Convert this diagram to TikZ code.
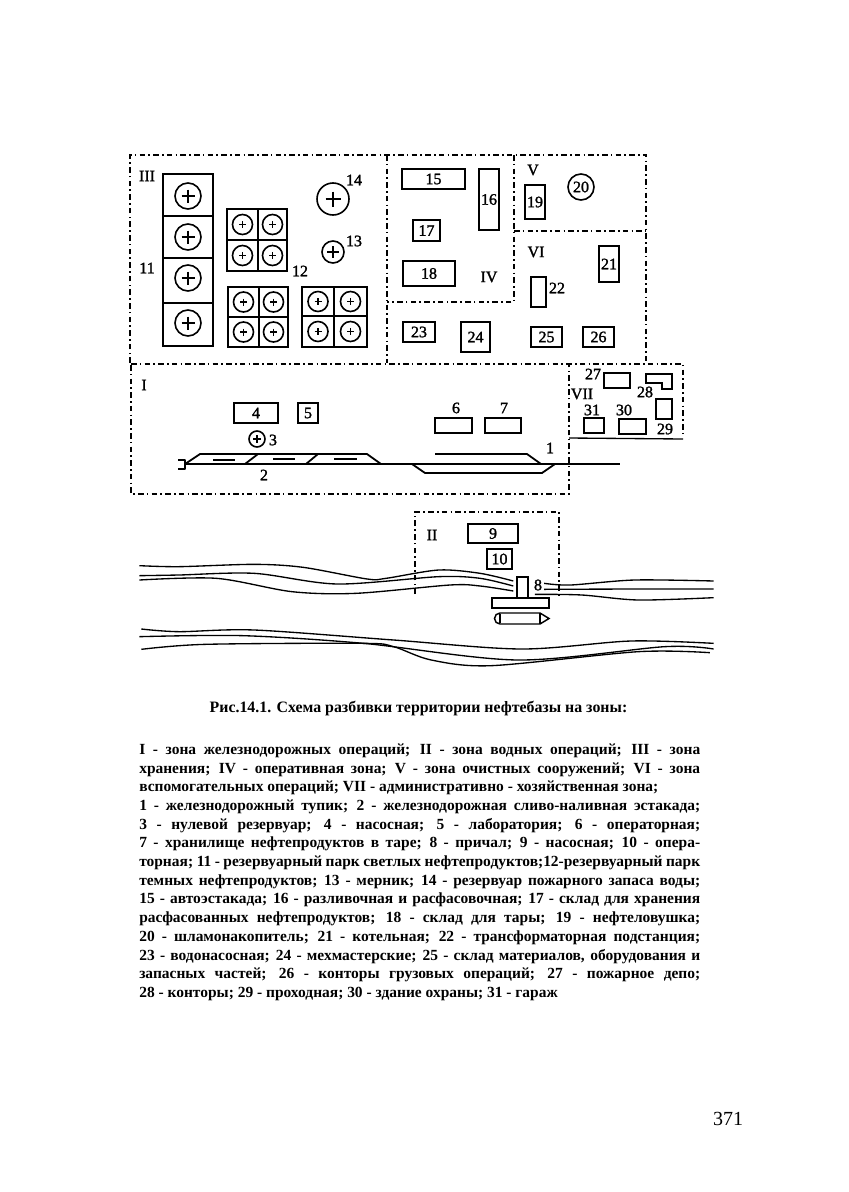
\documentclass[tikz,border=0pt]{standalone}
\usepackage{fontspec}
\setmainfont{Liberation Serif}
\newfontfamily\bodyfont{Liberation Serif Bold}
\newfontfamily\labfont[FakeBold=1.5]{Liberation Serif}
\newcommand{\tankmark}[4]{%
  \draw[tankline] (#1,#2) circle[radius=#3];
  \draw[tankline] ({#1-#4},#2) -- ({#1+#4},#2) (#1,{#2-#4}) -- (#1,{#2+#4});}
\newcommand{\quadtank}[6]{% x1 y1 x2 y2 xm ym
  \draw[bx] (#1,#2) rectangle (#3,#4);
  \draw[bx] (#5,#2) -- (#5,#4) (#1,#6) -- (#3,#6);
  \tankmark{\fpeval{(#1+#5)/2}}{\fpeval{(#2+#6)/2}}{10}{3.5}
  \tankmark{\fpeval{(#3+#5)/2}}{\fpeval{(#2+#6)/2}}{10}{3.5}
  \tankmark{\fpeval{(#1+#5)/2}}{\fpeval{(#4+#6)/2}}{10}{3.5}
  \tankmark{\fpeval{(#3+#5)/2}}{\fpeval{(#4+#6)/2}}{10}{3.5}}
\newcommand{\jl}[1]{\makebox[420.75pt][s]{#1}\\}
\tikzset{
  x=0.75pt,y=-0.75pt,
  zone/.style={line width=1.2pt,dash pattern=on 4.2pt off 2.4pt on 1.2pt off 2.4pt},
  bx/.style={line width=1.35pt},
  thinbx/.style={line width=1.1pt},
  tankline/.style={line width=1.2pt},
  lab/.style={font=\labfont\fontsize{12}{13}\selectfont,inner sep=0pt},
  river/.style={line width=1pt,smooth,tension=0.5},
  rail/.style={line width=1.35pt,line join=round},
}
\begin{document}
\begin{tikzpicture}
\useasboundingbox (0,0) rectangle (849,1192);
% zones
\draw[zone] (130,363) -- (130,155) -- (646,155) -- (646,363);
\draw[zone] (387,155) -- (387,363);
\draw[zone] (514,155) -- (514,302) -- (387,302);
\draw[zone] (514,231) -- (646,231);
\draw[zone] (131,364) -- (683,364) -- (683,437);
\draw[zone] (131,365) -- (131,494) -- (569,494) -- (569,365);
\draw[line width=1pt] (569,438) -- (683,439);
\draw[zone] (415,594) -- (415,512) -- (559,512) -- (559,598);
% zone labels
\node[lab] (zIII) at (147,176) {III};
\node[lab] (zIV) at (489,277) {IV};
\node[lab] (zV) at (533,170) {V};
\node[lab] (zVI) at (536,252) {VI};
\node[lab] (zVII) at (582,394) {VII};
\node[lab] (zI) at (144,385) {I};
\node[lab] (zII) at (432,535) {II};
% park 11
\draw[bx] (163,174) rectangle (213,346);
\draw[bx] (163,216) -- (213,216) (163,258) -- (213,258) (163,303) -- (213,303);
\tankmark{188}{196}{13}{6.5}
\tankmark{188}{237}{13}{6.5}
\tankmark{188}{278}{13}{6.5}
\tankmark{188}{323}{13}{6.5}
\node[lab] (n11) at (147,268) {11};
% park 12
\quadtank{227}{209}{287}{271}{258}{240}
\quadtank{228}{287}{288}{347}{259}{317}
\quadtank{302}{287}{367}{347}{334}{316}
\node[lab] (n12) at (300,271) {12};
\tankmark{333}{199}{16}{7.5}
\tankmark{333}{252}{11}{6}
\node[lab] (n14) at (354,180) {14};
\node[lab] (n13) at (354,241) {13};
% buildings
\draw[bx] (402,169) rectangle (465,189) node[midway,lab] (n15) {15};
\draw[bx] (479,169) rectangle (499,230) node[midway,lab] (n16) {16};
\draw[bx] (413,220) rectangle (440,241) node[midway,lab] (n17) {17};
\draw[bx] (403,261) rectangle (455,286) node[midway,lab] (n18) {18};
\draw[bx] (525,185) rectangle (545,219) node[midway,lab] (n19) {19};
\draw[tankline] (581,187) circle[radius=13];
\node[lab] (n20) at (581,187) {20};
\draw[bx] (599,246) rectangle (619,282) node[midway,lab] (n21) {21};
\draw[thinbx] (531,277) rectangle (546,307);
\node[lab] (n22) at (557,288) {22};
\draw[bx] (403,322) rectangle (435,342) node[midway,lab] (n23) {23};
\draw[bx] (461,322) rectangle (490,352) node[midway,lab] (n24) {24};
\draw[bx] (531,327) rectangle (562,347) node[midway,lab] (n25) {25};
\draw[bx] (583,327) rectangle (614,347) node[midway,lab] (n26) {26};
% zone VII
\draw[bx] (604,373) rectangle (630,388);
\node[lab] (n27) at (593,374) {27};
\draw[bx] (646,374) -- (672,374) -- (672,389) -- (662,389) -- (662,383) -- (646,383) -- cycle;
\node[lab] (n28) at (645,392) {28};
\draw[thinbx] (656,399) rectangle (672,419);
\node[lab] (n29) at (665,429) {29};
\draw[bx] (619,419) rectangle (646,434);
\node[lab] (n30) at (624,410) {30};
\draw[bx] (584,418) rectangle (604,433);
\node[lab] (n31) at (592,410) {31};
% zone I
\draw[bx] (234,403) rectangle (278,423) node[midway,lab] (n4) {4};
\draw[bx] (298,403) rectangle (318,423) node[midway,lab] (n5) {5};
\tankmark{257}{439}{8}{4}
\node[lab] (n3) at (273,440) {3};
\node[lab] (n2) at (264,475) {2};
\draw[bx] (435,418) rectangle (472,433);
\draw[bx] (485,418) rectangle (521,433);
\node[lab] (n6) at (456,408) {6};
\node[lab] (n7) at (504,408) {7};
\node[lab] (n1) at (550,448) {1};
% rails
\draw[rail] (185,464) -- (620,464);
\draw[rail] (178,460) -- (185,460) -- (185,469) -- (178,469);
\draw[rail] (185,464) -- (200,454) -- (367,454) -- (381,464);
\draw[rail] (245,464) -- (258,454) (306,464) -- (318,454);
\draw[rail] (213,460) -- (235,460) (273,459) -- (295,459) (334,459) -- (357,459);
\draw[rail] (435,454) -- (527,454) -- (541,464);
\draw[rail] (412,464) -- (425,473) -- (542,473) -- (555,464);
% zone II
\draw[bx] (468,524) rectangle (518,543) node[midway,lab] (n9) {9};
\draw[bx] (487,549) rectangle (512,569) node[midway,lab] (n10) {10};
\draw[thinbx] (517,577) rectangle (528,598);
\draw[bx] (492,598) rectangle (549,608);
\node[lab] (n8) at (538,585) {8};
% ship
\draw[thinbx] (500,613) -- (540,613) -- (549,618.5) -- (540,624) -- (500,624) arc[start angle=90,end angle=270,radius=5.5] -- cycle;
\draw[line width=2pt] (500,614) -- (500,623);
\draw[thinbx] (540,613) -- (540,624);
% river
\begin{scope}[shift={(130,505)},x=0.2824pt,y=-0.25pt]
\draw[river] plot coordinates {(25,182)(130,185)(330,178)(460,187)(630,222)(680,220)(820,195)(930,205)(1018,228)};
\draw[river] plot coordinates {(25,212)(130,210)(330,205)(550,237)(820,215)(930,220)(1018,243)};
\draw[river] plot coordinates {(25,225)(230,220)(430,260)(600,265)(850,240)(930,243)(1018,258)};
\draw[river] plot coordinates {(1100,235)(1170,240)(1340,225)(1550,228)};
\draw[river] plot coordinates {(1100,253)(1350,252)(1550,252)};
\draw[river] plot coordinates {(1075,268)(1200,270)(1350,285)(1550,278)};
\draw[river] plot coordinates {(30,372)(130,380)(330,375)(700,405)(1040,432)(1330,408)(1550,415)};
\draw[river] plot coordinates {(25,395)(300,392)(620,415)(1030,465)(1420,425)(1550,432)};
\draw[river] plot coordinates {(30,433)(200,418)(620,415)(700,425)(800,465)(960,482)(1350,440)(1540,443)};
\end{scope}
% caption
\node[font=\bodyfont\fontsize{11.9}{14}\selectfont,inner sep=0pt] (cap) at (418.5,709) {Рис.14.1. Схема разбивки территории нефтебазы на зоны:};
\node[anchor=north west,inner sep=0pt,align=left,font=\bodyfont\fontsize{11.6}{14.02}\selectfont] (legend) at (139,743.5) {%
\jl{I - зона железнодорожных операций; II - зона водных операций; III - зона}
\jl{хранения; IV - оперативная зона; V - зона очистных сооружений; VI - зона}
вспомогательных операций; VII - административно - хозяйственная зона;\\
\jl{1 - железнодорожный тупик; 2 - железнодорожная сливо-наливная эстакада;}
\jl{3 - нулевой резервуар; 4 - насосная; 5 - лаборатория; 6 - операторная;}
\jl{7 - хранилище нефтепродуктов в таре; 8 - причал; 9 - насосная; 10 - опера-}
\jl{торная; 11 - резервуарный парк светлых нефтепродуктов;12-резервуарный парк}
\jl{темных нефтепродуктов; 13 - мерник; 14 - резервуар пожарного запаса воды;}
\jl{15 - автоэстакада; 16 - разливочная и расфасовочная; 17 - склад для хранения}
\jl{расфасованных нефтепродуктов; 18 - склад для тары; 19 - нефтеловушка;}
\jl{20 - шламонакопитель; 21 - котельная; 22 - трансформаторная подстанция;}
\jl{23 - водонасосная; 24 - мехмастерские; 25 - склад материалов, оборудования и}
\jl{запасных частей; 26 - конторы грузовых операций; 27 - пожарное депо;}
28 - конторы; 29 - проходная; 30 - здание охраны; 31 - гараж};
\node[font=\fontsize{15}{16}\selectfont,inner sep=0pt] (page) at (728,1119) {371};
\end{tikzpicture}
\end{document}
